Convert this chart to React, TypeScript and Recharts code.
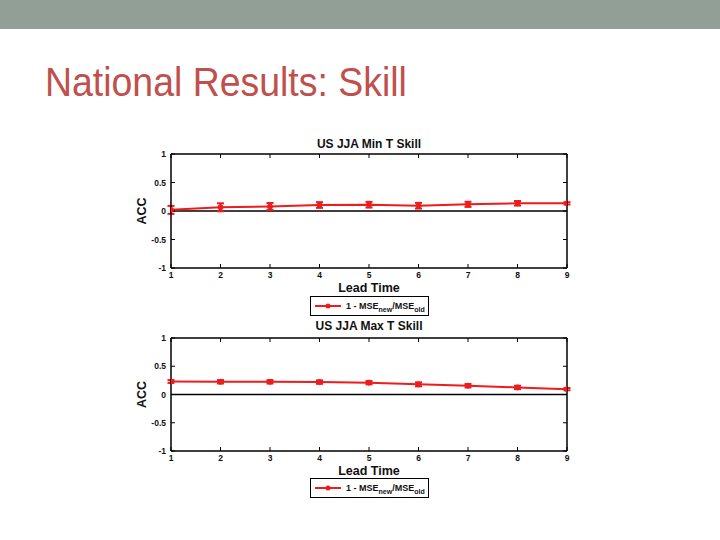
import React from 'react';
import { LineChart, Line, XAxis, YAxis, ErrorBar, ReferenceLine, Label, Legend } from 'recharts';

const leadTimes = [1, 2, 3, 4, 5, 6, 7, 8, 9];
const minSkill = [0.02, 0.065, 0.08, 0.105, 0.11, 0.093, 0.117, 0.135, 0.135];
const minErr = [0.07, 0.07, 0.06, 0.05, 0.05, 0.05, 0.045, 0.04, 0.02];
const maxSkill = [0.23, 0.225, 0.225, 0.22, 0.21, 0.18, 0.155, 0.125, 0.095];
const maxErr = [0.025, 0.03, 0.03, 0.03, 0.03, 0.035, 0.03, 0.03, 0.02];
const yTicks = [-1, -0.5, 0, 0.5, 1];
const xTicks = [1, 2, 3, 4, 5, 6, 7, 8, 9];

const RED = '#EE1C1C';
const FONT = '"Liberation Sans", Arial, sans-serif';

const minData = leadTimes.map((t, i) => ({ lead: t, skill: minSkill[i], err: minErr[i] }));
const maxData = leadTimes.map((t, i) => ({ lead: t, skill: maxSkill[i], err: maxErr[i] }));

const tickStyle = { fontSize: 8.5, fontWeight: 'bold', fill: '#111', fontFamily: FONT };

const LegendBox = () => (
  <div
    style={{
      width: 119,
      height: 20,
      boxSizing: 'border-box',
      border: '1.5px solid #000',
      background: '#fff',
      display: 'flex',
      alignItems: 'center',
      fontFamily: FONT,
      fontWeight: 'bold',
      fontSize: 9,
      color: '#111',
      whiteSpace: 'nowrap',
    }}
  >
    <svg width={26} height={10} style={{ marginLeft: 4, flex: 'none' }}>
      <line x1={0} y1={5} x2={26} y2={5} stroke={RED} strokeWidth={2} />
      <circle cx={13} cy={5} r={2.5} fill={RED} />
    </svg>
    <span style={{ marginLeft: 5 }}>
      1 - MSE<span style={{ fontSize: 7, position: 'relative', top: 3 }}>new</span>/MSE
      <span style={{ fontSize: 7, position: 'relative', top: 3 }}>old</span>
    </span>
  </div>
);

const AccLabel = (props: any) => {
  const vb = props.viewBox || { x: 141, y: 0, width: 30, height: 100 };
  const cx = vb.x + 1;
  const cy = vb.y + vb.height / 2;
  return (
    <text
      x={cx}
      y={cy}
      transform={`rotate(-90 ${cx} ${cy})`}
      textAnchor="middle"
      dominantBaseline="central"
      fontFamily={FONT}
      fontWeight="bold"
      fontSize={12.5}
      fill="#111"
    >
      ACC
    </text>
  );
};

type PanelProps = {
  title: string;
  data: { lead: number; skill: number; err: number }[];
  top: number;
  height: number;
  marginTop: number;
  marginBottom: number;
  legendTop: number;
  titleOffset: number;
};

const Panel = ({ title, data, top, height, marginTop, marginBottom, legendTop, titleOffset }: PanelProps) => (
  <div style={{ position: 'absolute', left: 0, top }}>
    <LineChart
      width={720}
      height={height}
      data={data}
      margin={{ top: marginTop - 1, right: 152, bottom: marginBottom, left: 141 }}
    >
      <XAxis
        xAxisId="bottom"
        dataKey="lead"
        type="number"
        domain={[1, 9]}
        ticks={xTicks}
        allowDataOverflow
        height={14}
        tickSize={-4}
        tickMargin={8}
        tick={tickStyle}
        axisLine={{ stroke: '#000', strokeWidth: 1.5 }}
        tickLine={{ stroke: '#000', strokeWidth: 1 }}
      >
        <Label
          value="Lead Time"
          position="bottom"
          offset={1}
          style={{ fontFamily: FONT, fontWeight: 'bold', fontSize: 12.5, fill: '#111' }}
        />
      </XAxis>
      <XAxis
        xAxisId="top"
        dataKey="lead"
        orientation="top"
        type="number"
        domain={[1, 9]}
        ticks={xTicks}
        allowDataOverflow
        height={1}
        tickSize={-4}
        tickFormatter={() => ''}
        axisLine={{ stroke: '#000', strokeWidth: 1.5 }}
        tickLine={{ stroke: '#000', strokeWidth: 1 }}
      >
        <Label
          value={title}
          position="top"
          offset={titleOffset - 1}
          style={{ fontFamily: FONT, fontWeight: 'bold', fontSize: 12, fill: '#111' }}
        />
      </XAxis>
      <YAxis
        yAxisId="left"
        type="number"
        domain={[-1, 1]}
        ticks={yTicks}
        allowDataOverflow
        width={30}
        tickSize={-4}
        tickMargin={9}
        tick={tickStyle}
        axisLine={{ stroke: '#000', strokeWidth: 1.5 }}
        tickLine={{ stroke: '#000', strokeWidth: 1 }}
      >
        <Label content={AccLabel} />
      </YAxis>
      <YAxis
        yAxisId="right"
        orientation="right"
        type="number"
        domain={[-1, 1]}
        ticks={yTicks}
        allowDataOverflow
        width={1}
        tickSize={-4}
        tickFormatter={() => ''}
        axisLine={{ stroke: '#000', strokeWidth: 1.5 }}
        tickLine={{ stroke: '#000', strokeWidth: 1 }}
      />
      <ReferenceLine xAxisId="bottom" yAxisId="left" y={0} stroke="#000" strokeWidth={1.5} />
      <Line
        xAxisId="top"
        yAxisId="right"
        dataKey="skill"
        stroke="#fff"
        strokeOpacity={0}
        dot={false}
        activeDot={false}
        legendType="none"
        isAnimationActive={false}
      />
      <Line
        xAxisId="bottom"
        yAxisId="left"
        dataKey="skill"
        stroke={RED}
        strokeWidth={2}
        dot={{ r: 2.5, fill: RED, stroke: RED, strokeWidth: 1 }}
        isAnimationActive={false}
      >
        <ErrorBar dataKey="err" width={3.5} stroke={RED} strokeWidth={2} direction="y" isAnimationActive={false} />
      </Line>
      <Legend
        layout="horizontal"
        verticalAlign="middle"
        align="center"
        width={119}
        height={20}
        wrapperStyle={{ left: 310, top: legendTop, width: 119, height: 20 }}
        content={() => <LegendBox />}
      />
    </LineChart>
  </div>
);

export default function App() {
  return (
    <div
      style={{
        position: 'absolute',
        left: 0,
        top: 0,
        width: 720,
        height: 540,
        background: '#fff',
        overflow: 'hidden',
      }}
    >
      <div style={{ position: 'absolute', left: 0, top: 0, width: 720, height: 29, background: '#919F96' }} />
      <div
        style={{
          position: 'absolute',
          left: 45,
          top: 58,
          fontFamily: '"Liberation Sans", Arial, sans-serif',
          fontSize: 40.5,
          lineHeight: '48px',
          color: '#C0504D',
          whiteSpace: 'nowrap',
          transform: 'scaleX(0.924)',
          transformOrigin: 'left top',
        }}
      >
        National Results: Skill
      </div>
      <Panel
        title="US JJA Min T Skill"
        data={minData}
        top={130}
        height={200}
        marginTop={24}
        marginBottom={48}
        legendTop={166}
        titleOffset={6}
      />
      <Panel
        title="US JJA Max T Skill"
        data={maxData}
        top={318}
        height={190}
        marginTop={20}
        marginBottom={43}
        legendTop={160}
        titleOffset={8}
      />
    </div>
  );
}
